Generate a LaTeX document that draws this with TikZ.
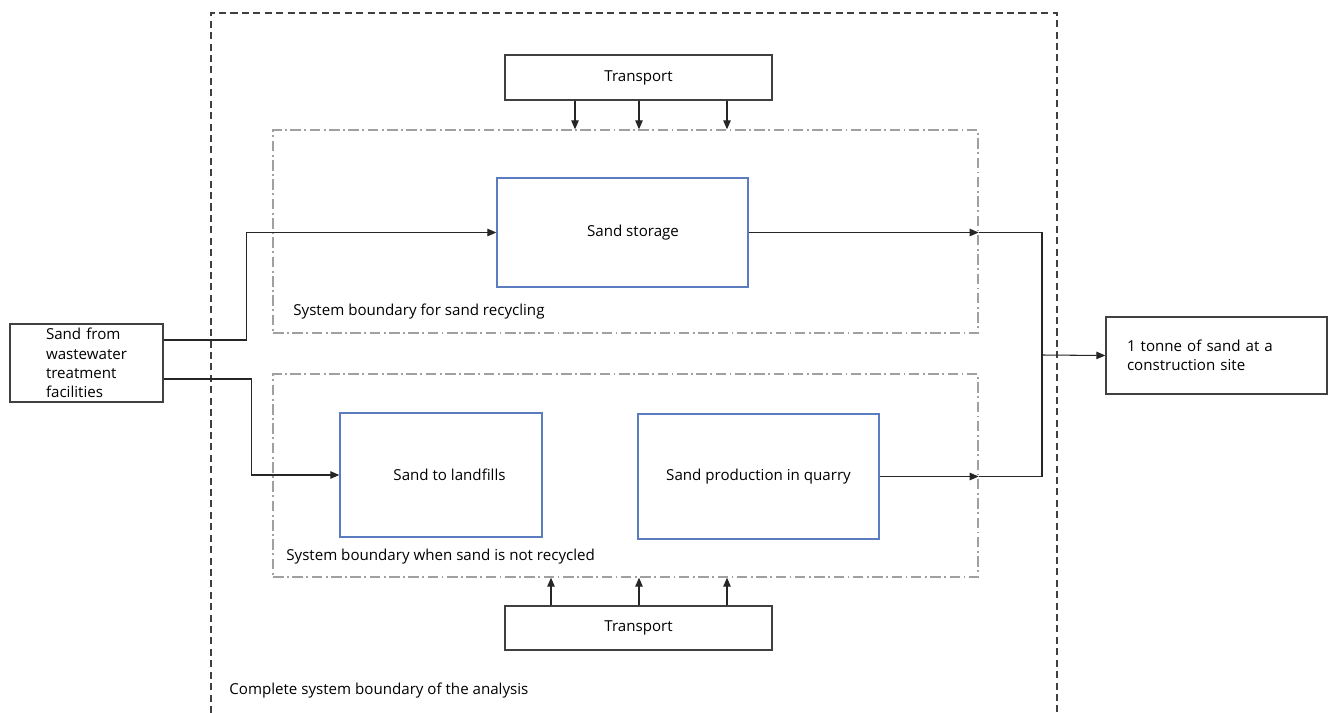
\documentclass[tikz,border=0pt]{standalone}
\usepackage{fontspec}
\setmainfont{Open Sans}
\usetikzlibrary{arrows.meta,positioning}
\definecolor{edge}{HTML}{404040}
\definecolor{proc}{HTML}{5B7DBF}
\definecolor{bnd}{HTML}{A0A0A0}

\begin{document}
\begin{tikzpicture}[x=0.02cm,y=-0.02cm,
 font=\fontsize{8.6}{11}\selectfont,
 b/.style={draw=edge,thick,minimum width=#1,inner sep=0pt},
 p/.style={draw=proc,thick,minimum width=#1,inner sep=0pt},
 sb/.style={draw=bnd,thick,dash pattern=on 6pt off 2pt on 1pt off 2pt,minimum width=14.1cm,minimum height=4.06cm,inner sep=0pt},
 lb/.style={anchor=west,inner sep=0pt},
 a/.style={-{Triangle[length=1.8mm,width=1.5mm]},semithick,draw=black!85},
 l/.style={semithick,draw=black!85}]
 \useasboundingbox (0,0) rectangle (1335,713);
 % complete system boundary, runs off the bottom
 \draw[edge,thick,dash pattern=on 4pt off 2.5pt] (211,713) |- (1057,13) -- (1057,713);
 \node[lb] (cl) at (229,691) {Complete system boundary of the analysis};
 % inner boundaries
 \node[sb] (upb) at (625.5,231.5) {};
 \node[sb] (lowb) at (625.5,475.5) {};
 \node[lb] (ul) at (293,312) {System boundary for sand recycling};
 \node[lb] (ll) at (286,557) {System boundary when sand is not recycled};
 % processes
 \node[b=5.34cm,minimum height=0.9cm] (tt) at (638.5,77.5) {Transport};
 \node[b=5.34cm,minimum height=0.88cm] (tb) at (638.5,628) {Transport};
 \node[p=5.02cm,minimum height=2.18cm] (stor) at (622.5,232.5) {\hspace{0.42cm}Sand storage};
 \node[p=4.04cm,minimum height=2.48cm] (land) at (441,475) {\hspace{0.34cm}Sand to landfills};
 \node[p=4.82cm,minimum height=2.5cm] (quar) at (758.5,476.5) {Sand production in quarry};
 \node[draw=edge,thick,minimum height=1.56cm,inner ysep=0pt,inner xsep=0.72cm,
  text width=1.62cm,align=left] (src) at (86.5,363)
  {Sand from\\wastewater\\treatment\\facilities};
 \node[draw=edge,thick,minimum height=1.54cm,inner ysep=0pt,inner xsep=0.42cm,
  text width=3.58cm,align=left] (tgt) at (1216.5,355.5)
  {1 tonne of sand at a\\construction site};
 \coordinate (mrg) at (1042,355);
 % flows
 \draw[a] ([yshift=4.6mm]src.east) -- ++(83,0) |- (stor.west);
 \draw[a] ([yshift=-3.2mm]src.east) -- ++(88,0) |- (land.west);
 \draw[a] (stor.east) -- (stor.east -| upb.east);
 \draw[l] (stor.east -| upb.east) -| (mrg);
 \draw[a] (quar.east) -- (quar.east -| lowb.east);
 \draw[l] (quar.east -| lowb.east) -| (mrg);
 \draw[a] (mrg) -- (tgt.west);
 \foreach \x in {575,639,727}
  \draw[a] (tt.south -| \x,0) -- (upb.north -| \x,0);
 \foreach \x in {551,639,727}
  \draw[a] (tb.north -| \x,0) -- (lowb.south -| \x,0);
\end{tikzpicture}
\end{document}
